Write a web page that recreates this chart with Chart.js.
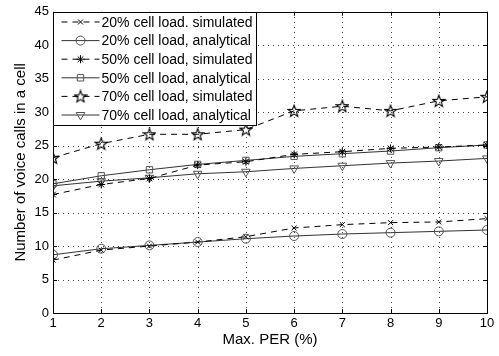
<!DOCTYPE html>
<html>
<head>
<meta charset="utf-8">
<script src="https://cdn.jsdelivr.net/npm/chart.js@4"></script>
<style>
  html, body { margin: 0; padding: 0; background: #fff; }
  #wrap { width: 499px; height: 356px; }
</style>
</head>
<body>
<div id="wrap"><canvas id="plots" width="499" height="356"></canvas></div>
<script>
// Max. PER (%) on x
var perValues = [1, 2, 3, 4, 5, 6, 7, 8, 9, 10];
var yTicks = [0, 5, 10, 15, 20, 25, 30, 35, 40, 45];

var sim20 = [7.9, 9.4, 10.0, 10.6, 11.4, 12.7, 13.2, 13.5, 13.6, 14.1];
var ana20 = [8.7, 9.6, 10.1, 10.6, 11.1, 11.5, 11.8, 12.0, 12.2, 12.4];
var sim50 = [17.7, 19.2, 20.1, 22.1, 22.6, 23.7, 24.1, 24.6, 24.8, 25.1];
var ana50 = [19.3, 20.5, 21.4, 22.2, 22.8, 23.4, 23.8, 24.2, 24.7, 25.1];
var sim70 = [23.2, 25.3, 26.7, 26.7, 27.4, 30.2, 30.9, 30.2, 31.7, 32.3];
var ana70 = [19.0, 19.7, 20.2, 20.8, 21.1, 21.6, 22.0, 22.4, 22.7, 23.1];

var labels = [
  "20% cell load. simulated",
  "20% cell load, analytical",
  "50% cell load, simulated",
  "50% cell load, analytical",
  "70% cell load, simulated",
  "70% cell load, analytical"
];

var fontFam = '"Liberation Sans", Arial, sans-serif';

// pentagram marker (chart.js has no 5-point star)
function makeStar() {
  var c = document.createElement('canvas');
  c.width = 14; c.height = 14;
  var g = c.getContext('2d');
  g.beginPath();
  for (var i = 0; i < 10; i++) {
    var r = i % 2 === 0 ? 6.2 : 2.6;
    var a = -Math.PI / 2 + i * Math.PI / 5;
    var px = 7 + r * Math.cos(a), py = 7.5 + r * Math.sin(a);
    if (i === 0) g.moveTo(px, py); else g.lineTo(px, py);
  }
  g.closePath();
  g.strokeStyle = '#000';
  g.lineWidth = 1.1;
  g.stroke();
  return c;
}
var starImg = makeStar();

function pts(arr) {
  return arr.map(function (v, i) { return { x: perValues[i], y: v }; });
}

var simLine = '#000';
var anaLine = '#333';
var anaMark = '#555';

var datasets = [
  { label: labels[0], data: pts(sim20), borderColor: simLine, borderDash: [6, 5], pointStyle: 'crossRot', pointRadius: 3.5, pointBorderColor: '#000' },
  { label: labels[1], data: pts(ana20), borderColor: anaLine, pointStyle: 'circle', pointRadius: 4.5, pointBorderColor: anaMark },
  { label: labels[2], data: pts(sim50), borderColor: simLine, borderDash: [6, 5], pointStyle: 'star', pointRadius: 4, pointBorderColor: '#000' },
  { label: labels[3], data: pts(ana50), borderColor: anaLine, pointStyle: 'rect', pointRadius: 4.5, pointBorderColor: anaMark },
  { label: labels[4], data: pts(sim70), borderColor: simLine, borderDash: [6, 5], pointStyle: starImg, pointRadius: 6 },
  { label: labels[5], data: pts(ana70), borderColor: anaLine, pointStyle: 'triangle', pointRotation: 180, pointRadius: 5, pointBorderColor: anaMark }
];
datasets.forEach(function (d) {
  d.borderWidth = 1;
  d.pointBorderWidth = 1;
  d.pointBackgroundColor = 'rgba(0,0,0,0)';
  d.fill = false;
  d.tension = 0;
});

// dotted grid under the data
var gridPlugin = {
  id: 'dotgrid',
  beforeDatasetsDraw: function (chart) {
    var ctx = chart.ctx, a = chart.chartArea;
    var xs = chart.scales.x, ys = chart.scales.y;
    ctx.save();
    ctx.strokeStyle = '#444';
    ctx.lineWidth = 1;
    ctx.setLineDash([1, 4]);
    ctx.beginPath();
    perValues.slice(1, -1).forEach(function (v) {
      var px = Math.round(xs.getPixelForValue(v)) + 0.5;
      ctx.moveTo(px, a.bottom); ctx.lineTo(px, a.top);
    });
    yTicks.slice(1, -1).forEach(function (v) {
      var py = Math.round(ys.getPixelForValue(v)) + 0.5;
      ctx.moveTo(a.left, py); ctx.lineTo(a.right, py);
    });
    ctx.stroke();
    ctx.restore();
  }
};

// frame, inward ticks and matlab-style legend
var framePlugin = {
  id: 'frame',
  afterDatasetsDraw: function (chart) {
    var ctx = chart.ctx, a = chart.chartArea;
    var xs = chart.scales.x, ys = chart.scales.y;
    ctx.save();
    ctx.strokeStyle = '#000';
    ctx.lineWidth = 1;
    ctx.setLineDash([]);
    ctx.strokeRect(Math.round(a.left) + 0.5, Math.round(a.top) + 0.5, Math.round(a.right - a.left), Math.round(a.bottom - a.top));
    ctx.beginPath();
    perValues.forEach(function (v) {
      var px = Math.round(xs.getPixelForValue(v)) + 0.5;
      ctx.moveTo(px, a.bottom); ctx.lineTo(px, a.bottom - 4);
      ctx.moveTo(px, a.top); ctx.lineTo(px, a.top + 4);
    });
    yTicks.forEach(function (v) {
      var py = Math.round(ys.getPixelForValue(v)) + 0.5;
      ctx.moveTo(a.left, py); ctx.lineTo(a.left + 4, py);
      ctx.moveTo(a.right, py); ctx.lineTo(a.right - 4, py);
    });
    ctx.stroke();

    // legend box
    var bx = Math.round(a.left) + 0.5, by = Math.round(a.top) + 0.5;
    var bw = 203, bh = 113, rowH = 18.6;
    ctx.fillStyle = '#fff';
    ctx.fillRect(bx, by, bw, bh);
    ctx.strokeRect(bx, by, bw, bh);
    ctx.font = '14px ' + fontFam;
    ctx.textBaseline = 'middle';
    chart.data.datasets.forEach(function (d, i) {
      var cy = by + 9.5 + i * rowH;
      ctx.strokeStyle = d.borderColor;
      ctx.lineWidth = 1;
      ctx.setLineDash(d.borderDash || []);
      ctx.beginPath();
      ctx.moveTo(bx + 8, cy); ctx.lineTo(bx + 46, cy);
      ctx.stroke();
      ctx.setLineDash([]);
      ctx.strokeStyle = d.pointBorderColor || '#000';
      ctx.fillStyle = 'rgba(0,0,0,0)';
      Chart.helpers.drawPoint(ctx, {
        pointStyle: d.pointStyle, rotation: d.pointRotation || 0,
        radius: d.pointRadius, borderWidth: 1
      }, bx + 27, cy);
      ctx.fillStyle = '#000';
      ctx.fillText(d.label, bx + 48, cy + 1);
    });
    ctx.restore();
  }
};

var ctx = document.getElementById('plots').getContext('2d');
var myChart = new Chart(ctx, {
  type: 'line',
  data: { datasets: datasets },
  plugins: [gridPlugin, framePlugin],
  options: {
    responsive: false,
    animation: false,
    devicePixelRatio: 1,
    layout: { padding: { top: 9, right: 12, left: 0, bottom: 0 } },
    plugins: {
      legend: { display: false },
      tooltip: { enabled: false }
    },
    scales: {
      x: {
        type: 'linear',
        min: 1, max: 10,
        afterBuildTicks: function (s) { s.ticks = perValues.map(function (v) { return { value: v }; }); },
        afterFit: function (s) { s.height = 43; },
        grid: { display: false, drawTicks: false },
        border: { display: false },
        ticks: { color: '#000', padding: 3, maxRotation: 0, font: { family: fontFam, size: 13 } },
        title: { display: true, text: 'Max. PER (%)', color: '#000', padding: { top: 0, bottom: 7 }, font: { family: fontFam, size: 15 } }
      },
      y: {
        min: 0, max: 45,
        afterBuildTicks: function (s) { s.ticks = yTicks.map(function (v) { return { value: v }; }); },
        afterFit: function (s) { s.width = 53; },
        grid: { display: false, drawTicks: false },
        border: { display: false },
        ticks: { color: '#000', padding: 4, font: { family: fontFam, size: 13 } },
        title: { display: true, text: 'Number of voice calls in a cell', color: '#000', padding: { top: 12, bottom: 0 }, font: { family: fontFam, size: 15 } }
      }
    }
  }
});
</script>
</body>
</html>
